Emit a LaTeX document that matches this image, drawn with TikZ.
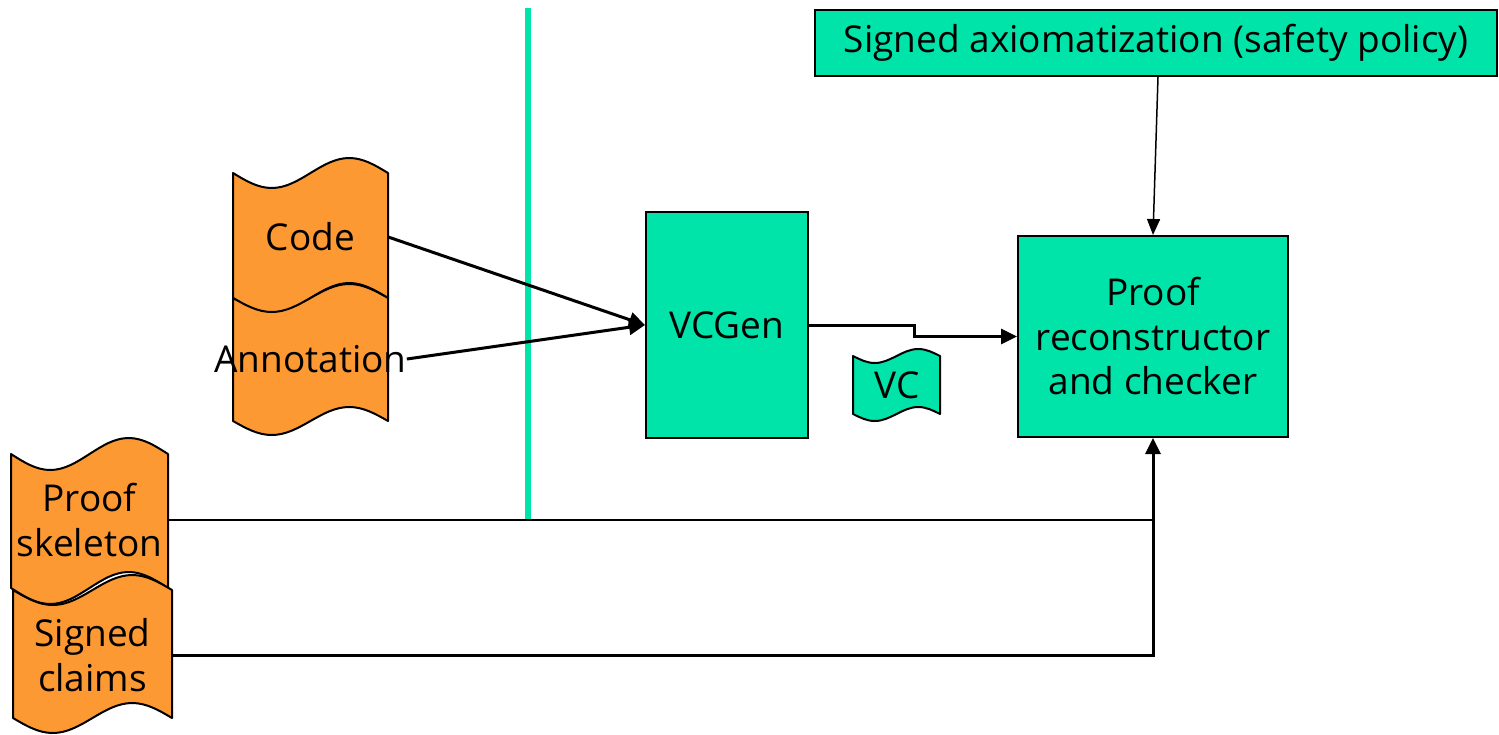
\documentclass[tikz,border=0pt]{standalone}
\usepackage{fontspec}
\setmainfont{Open Sans}
\usetikzlibrary{arrows.meta}
\definecolor{mint}{RGB}{0,228,170}
\definecolor{tapeor}{RGB}{253,153,51}
\newcommand{\tapepath}[6]{%
  \pgfmathsetmacro\tpA{#2+0.25*(#3-#2)}%
  \pgfmathsetmacro\tpB{#2+0.5*(#3-#2)}%
  \pgfmathsetmacro\tpC{#2+0.75*(#3-#2)}%
  \draw[#1] (#2,#4) sin (\tpA,#4+#6) cos (\tpB,#4) sin (\tpC,#4-#6) cos (#3,#4)
    -- (#3,#5) sin (\tpC,#5-#6) cos (\tpB,#5) sin (\tpA,#5+#6) cos (#2,#5) -- cycle;}
\tikzset{
  box/.style={draw=black, line width=2pt, fill=mint, inner sep=0pt, align=center, font=\fontsize{37}{44.5}\selectfont},
  tape/.style={draw=black, line width=2pt, fill=tapeor, line join=round},
  vctape/.style={draw=black, line width=2pt, fill=mint, line join=round},
  label/.style={inner sep=0pt, align=center, font=\fontsize{37}{44.5}\selectfont},
  thickarrow/.style={line width=3pt, -{Triangle[length=16pt,width=15pt]}},
  thinarrow/.style={line width=1.5pt, -{Triangle[length=16pt,width=13pt]}},
  thinline/.style={line width=1.5pt},
}
\begin{document}
\begin{tikzpicture}[x=1pt,y=-1pt]
\useasboundingbox (0,0) rectangle (1499,734);
% green separator
\draw[mint, line width=6pt] (528,8) -- (528,520);
% documents
\tapepath{tape}{233}{388}{173}{298}{15}
\tapepath{tape}{233}{388}{298}{421}{14}
\tapepath{tape}{11}{168}{454}{588}{16}
\tapepath{tape}{13}{172}{590}{718}{15}
\tapepath{vctape}{853}{940}{356}{414}{7}
\node[label, minimum width=155pt] (code) at (310.5,237) {Code};
\node[label, minimum width=155pt] (annot) at (310.5,359) {Annotation};
\node[label, minimum width=157pt] (skel) at (89.5,520) {Proof\\skeleton};
\node[label, minimum width=159pt] (claims) at (92.5,655) {Signed\\claims};
\node[label] (vc) at (897,385) {VC};
% boxes
\node[box, minimum width=162pt, minimum height=226pt] (vcgen) at (727,325) {VCGen};
\node[box, minimum width=270pt, minimum height=201pt] (proof) at (1153,336.5) {Proof\\reconstructor\\and checker};
\node[box, minimum width=682pt, minimum height=66pt] (axiom) at (1156,43) {Signed axiomatization (safety policy)};
% connectors
\draw[thickarrow] (code.east) -- (vcgen.west);
\draw[thickarrow] (annot.east) -- (vcgen.west);
\draw[thickarrow] (vcgen.east) -- ++(105,0) |- (proof.west);
\draw[thinarrow] ([xshift=2pt]axiom.south) -- (proof.north);
\draw[thinline] (skel.east) -- (proof.south |- skel.east);
\draw[thickarrow] (claims.east) -| (proof.south);
\end{tikzpicture}
\end{document}
